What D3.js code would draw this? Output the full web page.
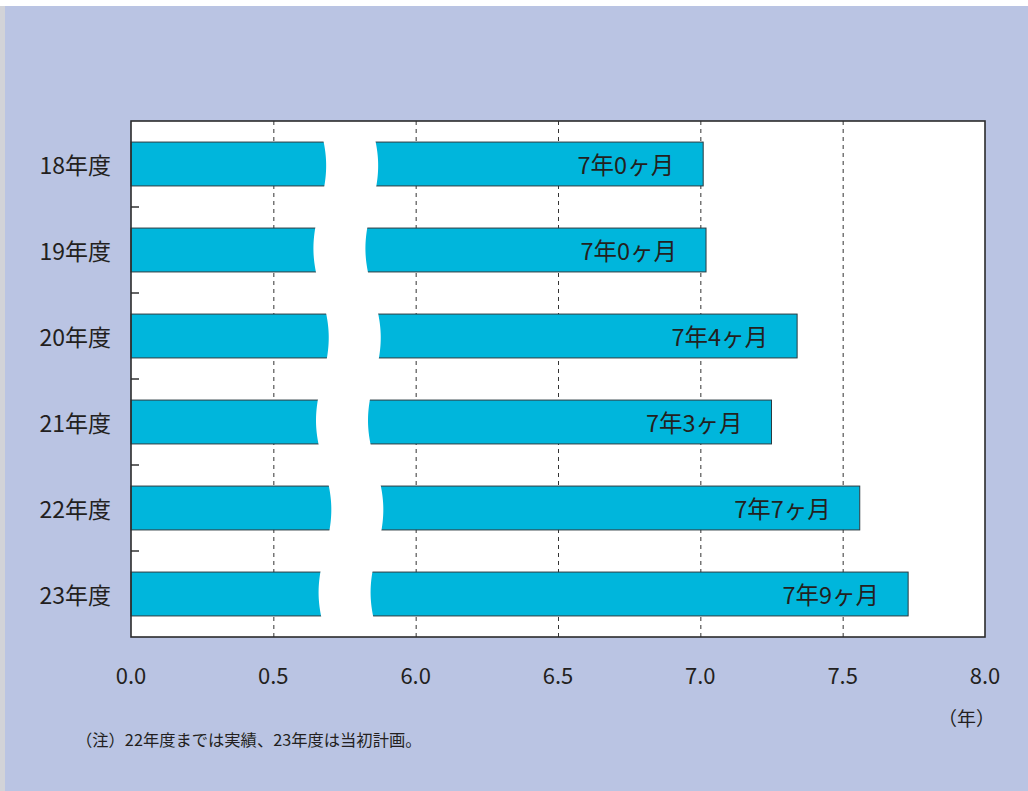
<!DOCTYPE html>
<html><head><meta charset="utf-8">
<script src="https://cdn.jsdelivr.net/npm/d3@7"></script>
<style>html,body{margin:0;padding:0;background:#fff;}svg{display:block;}</style>
</head><body>
<svg id="chart" width="1028" height="791"></svg>
<script>
const categories = ["18年度","19年度","20年度","21年度","22年度","23年度"];
const values = [7.01, 7.02, 7.34, 7.25, 7.56, 7.73];
const barLabels = ["7年0ヶ月","7年0ヶ月","7年4ヶ月","7年3ヶ月","7年7ヶ月","7年9ヶ月"];
const tickValues = [0, 0.5, 6, 6.5, 7, 7.5, 8];
const tickLabels = ["0.0","0.5","6.0","6.5","7.0","7.5","8.0"];
const unitLabel = "（年）";
const note = "（注）22年度までは実績、23年度は当初計画。";

const FONT = "'Noto Sans CJK JP','Noto Sans',sans-serif";
const svg = d3.select("#chart");
const W = 1028, H = 791;
const L = 131, R = 985, T = 121, B = 637;
const pw = R - L;

// page background
svg.append("rect").attr("x",5).attr("y",6).attr("width",W-5).attr("height",H-6).attr("fill","#bac4e3");
svg.append("rect").attr("x",0).attr("y",6).attr("width",5).attr("height",H-6).attr("fill","#d2d3d8");

// broken scale: 0..0.5 then 6..8
const x = d3.scaleLinear()
  .domain([0, 0.5, 6, 8])
  .range([L, L + pw/6, L + 2*pw/6, R]);
const y = d3.scaleBand().domain(categories).range([T, B]).paddingInner(0.49).paddingOuter(0.245);

svg.append("rect").attr("x",L).attr("y",T).attr("width",pw).attr("height",B-T).attr("fill","#fff");

// gridlines
svg.append("g").selectAll("line").data(tickValues.filter(v => v > 0 && v < 8)).join("line")
  .attr("x1", d => x(d)+0.5).attr("x2", d => x(d)+0.5)
  .attr("y1", T).attr("y2", B)
  .attr("stroke","#333").attr("stroke-width",1).attr("stroke-dasharray","4,4");

// bars
svg.append("g").selectAll("rect").data(values).join("rect")
  .attr("x", x(0)).attr("y", (d,i) => y(categories[i]))
  .attr("width", d => x(d) - x(0)).attr("height", y.bandwidth())
  .attr("fill","#00b6dc").attr("stroke","#2a3a40").attr("stroke-width",1);

// wavy break band
const cx0 = (x(0.5) + x(6)) / 2;
const half = 26;
const step = y.step() * 2;
const center = yy => cx0 + 0.015*(yy - T) + 7*Math.sin(2*Math.PI*(yy - T)/step);
const ys = d3.range(T, B + 1, 2);
const leftPts = ys.map(yy => [center(yy) - half, yy]);
const rightPts = ys.slice().reverse().map(yy => [center(yy) + half, yy]);
svg.append("path")
  .attr("d", d3.line()(leftPts.concat(rightPts)) + "Z")
  .attr("fill","#fff");

// bar labels
svg.append("g").selectAll("text").data(values).join("text")
  .attr("x", d => x(d) - 29)
  .attr("y", (d,i) => y(categories[i]) + y.bandwidth()/2)
  .attr("text-anchor","end").attr("dominant-baseline","central")
  .attr("font-family", FONT).attr("font-size", 23.5).attr("fill","#231f20")
  .text((d,i) => barLabels[i]);

// category labels
svg.append("g").selectAll("text").data(categories).join("text")
  .attr("x", L - 20).attr("y", d => y(d) + y.bandwidth()/2)
  .attr("text-anchor","end").attr("dominant-baseline","central")
  .attr("font-family", FONT).attr("font-size", 23).attr("fill","#231f20")
  .text(d => d);

// category boundary ticks
svg.append("g").selectAll("line").data(categories.slice(1)).join("line")
  .attr("x1", L).attr("x2", L + 8)
  .attr("y1", d => y(d) - y.step()*y.paddingInner()/2)
  .attr("y2", d => y(d) - y.step()*y.paddingInner()/2)
  .attr("stroke","#333").attr("stroke-width",1.5);

// frame
svg.append("rect").attr("x",L).attr("y",T).attr("width",pw).attr("height",B-T)
  .attr("fill","none").attr("stroke","#2b2b2b").attr("stroke-width",1.6);

// x tick labels
svg.append("g").selectAll("text").data(tickValues).join("text")
  .attr("x", d => x(d)).attr("y", 674)
  .attr("text-anchor","middle").attr("dominant-baseline","central")
  .attr("font-family", FONT).attr("font-size", 22).attr("fill","#231f20")
  .text((d,i) => tickLabels[i]);

svg.append("text").attr("x", 995).attr("y", 717)
  .attr("text-anchor","end").attr("dominant-baseline","central")
  .attr("font-family", FONT).attr("font-size", 19).attr("fill","#231f20")
  .text(unitLabel);

svg.append("text").attr("x", 76).attr("y", 739)
  .attr("dominant-baseline","central")
  .attr("font-family", FONT).attr("font-size", 16.3).attr("fill","#231f20")
  .text(note);
</script>
</body></html>
